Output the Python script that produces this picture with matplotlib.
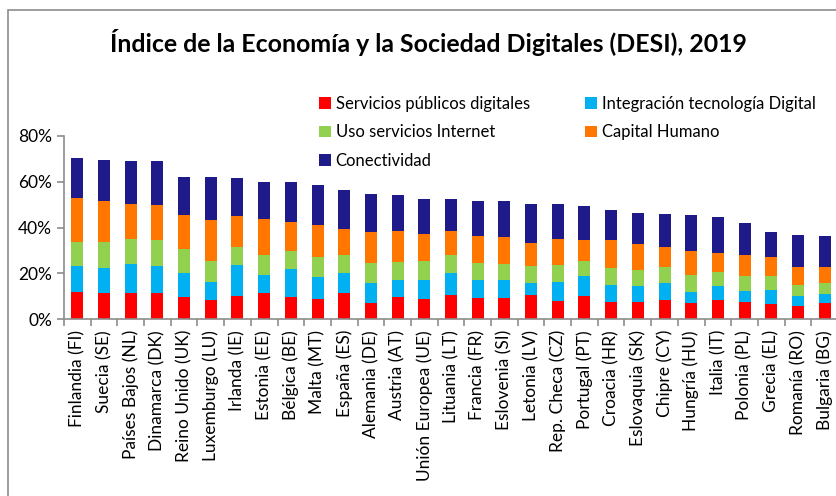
import matplotlib
matplotlib.use("Agg")
import matplotlib.pyplot as plt
import matplotlib.patches as patches
from matplotlib.ticker import FuncFormatter, FixedLocator
import numpy as np

plt.rcParams['font.family'] = ['Lato', 'DejaVu Sans']

countries = ['Finlandia (FI)', 'Suecia (SE)', 'Países Bajos (NL)', 'Dinamarca (DK)',
             'Reino Unido (UK)', 'Luxemburgo (LU)', 'Irlanda (IE)', 'Estonia (EE)',
             'Bélgica (BE)', 'Malta (MT)', 'España (ES)', 'Alemania (DE)',
             'Austria (AT)', 'Unión Europea (UE)', 'Lituania (LT)', 'Francia (FR)',
             'Eslovenia (SI)', 'Letonia (LV)', 'Rep. Checa (CZ)', 'Portugal (PT)',
             'Croacia (HR)', 'Eslovaquia (SK)', 'Chipre (CY)', 'Hungría (HU)',
             'Italia (IT)', 'Polonia (PL)', 'Grecia (EL)', 'Romanía (RO)',
             'Bulgaria (BG)']

# segment sizes, in percent
servicios_publicos = [11.8, 11.2, 11.2, 11.2, 9.8, 8.3, 10.2, 11.2, 9.8, 8.6,
                      11.2, 7.1, 9.8, 8.8, 10.5, 9.1, 9.1, 10.5, 7.9, 10.1,
                      7.6, 7.6, 8.3, 7.1, 8.3, 7.6, 6.6, 5.8, 6.9]
integracion_tec = [11.5, 11.3, 12.9, 12.1, 10.2, 8.0, 13.4, 7.9, 12.2, 9.9,
                   9.1, 8.8, 7.3, 8.3, 9.8, 8.0, 8.0, 5.1, 8.3, 8.7,
                   7.3, 7.0, 7.3, 4.9, 6.3, 4.8, 6.1, 4.3, 4.0]
uso_internet = [10.4, 11.2, 10.8, 11.1, 10.4, 9.1, 7.9, 9.0, 7.9, 8.8,
                7.7, 8.5, 7.7, 8.3, 7.7, 7.3, 7.0, 7.6, 7.4, 6.6,
                7.6, 7.0, 7.2, 7.3, 6.1, 6.5, 6.2, 4.8, 4.7]
capital_humano = [19.4, 17.8, 15.3, 15.4, 15.1, 17.8, 13.7, 15.8, 12.4, 13.7,
                  11.2, 13.7, 13.7, 11.8, 10.5, 12.1, 11.7, 9.9, 11.3, 9.0,
                  11.9, 11.2, 8.6, 10.6, 8.3, 9.2, 8.4, 7.9, 7.2]
conectividad = [17.3, 18.1, 18.9, 19.3, 16.5, 18.8, 16.4, 16.2, 17.4, 17.5,
                17.1, 16.6, 15.8, 15.3, 13.8, 14.9, 15.6, 17.1, 15.3, 15.2,
                13.2, 13.6, 14.5, 15.6, 15.5, 13.7, 10.8, 14.0, 13.5]

series = [
    ('Servicios públicos digitales', servicios_publicos, '#FF0000'),
    ('Integración tecnología Digital', integracion_tec, '#00B0F0'),
    ('Uso servicios Internet', uso_internet, '#92D050'),
    ('Capital Humano', capital_humano, '#FF7700'),
    ('Conectividad', conectividad, '#1F1A8A'),
]

fig = plt.figure(figsize=(8.36, 4.96), dpi=100)
ax = fig.add_axes([64 / 836, 1 - 319 / 496, 774 / 836, 183 / 496])

x = np.arange(len(countries))
bottom = np.zeros(len(countries))
handles = {}
for name, vals, color in series:
    vals = np.array(vals) / 100
    h = ax.bar(x, vals, 0.45, bottom=bottom, color=color, label=name,
               edgecolor='none')
    handles[name] = h
    bottom += vals

ax.set_xlim(-0.5, len(countries) - 0.5)
ax.set_ylim(0, 0.8)
ax.set_yticks([0, 0.2, 0.4, 0.6, 0.8])
ax.yaxis.set_major_formatter(FuncFormatter(lambda v, p: f'{v * 100:.0f}%'))
ax.set_xticks(x)
ax.set_xticklabels(countries, rotation=90, fontsize=12.5)
ax.xaxis.set_minor_locator(FixedLocator(np.arange(-0.5, len(countries), 1)))
ax.tick_params(axis='x', which='major', length=0, pad=8)
ax.tick_params(axis='x', which='minor', length=5, color='#8c8c8c', width=1.2)
ax.tick_params(axis='y', length=5, color='#8c8c8c', width=1.2, labelsize=12.5)

for s in ['top', 'right']:
    ax.spines[s].set_visible(False)
for s in ['left', 'bottom']:
    ax.spines[s].set_color('#8c8c8c')
    ax.spines[s].set_linewidth(1.2)

order = ['Servicios públicos digitales', 'Uso servicios Internet', 'Conectividad',
         'Integración tecnología Digital', 'Capital Humano']
fig.legend([handles[n] for n in order], order, ncol=2, frameon=False,
           loc='upper left', bbox_to_anchor=(312 / 836, 1 - 89.5 / 496),
           fontsize=12, handlelength=0.72, handleheight=0.72, handletextpad=0.3,
           columnspacing=3.3, labelspacing=0.73, borderaxespad=0)

fig.text(428 / 836, 1 - 42 / 496,
         'Índice de la Economía y la Sociedad Digitales (DESI), 2019',
         ha='center', va='center', fontsize=17.9, fontweight='bold')

fig.patches.append(patches.Rectangle((8 / 836, -0.1), 1.0, 1.1 - 10 / 496,
                                     transform=fig.transFigure, fill=False,
                                     edgecolor='#8c8c8c', linewidth=1.2))

fig.savefig('out.png', dpi=100)
